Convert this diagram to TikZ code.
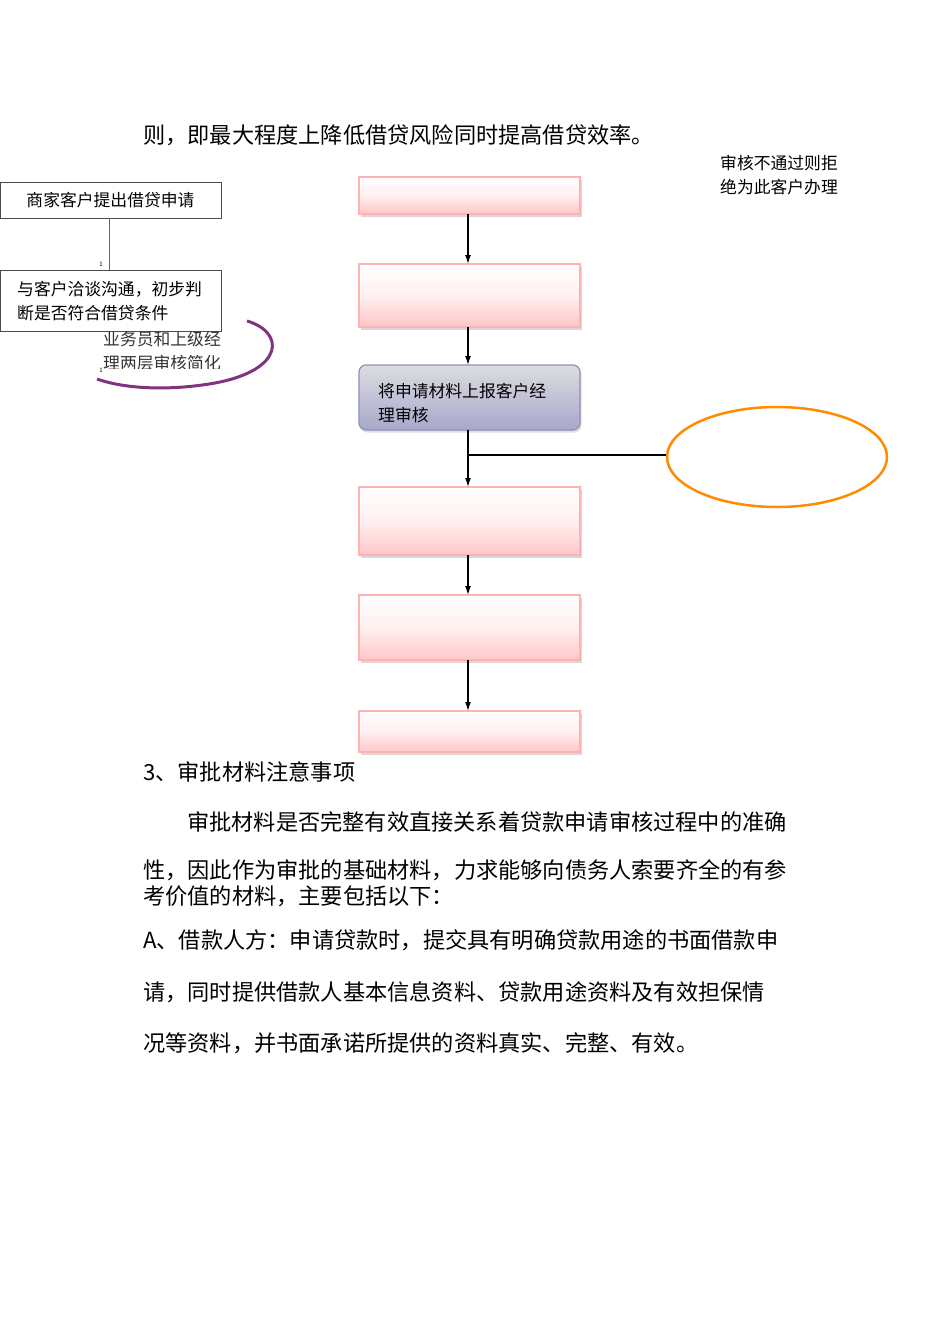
\documentclass[tikz,border=0pt]{standalone}
\usepackage{fontspec}
\setmainfont{Noto Sans CJK SC}
\usetikzlibrary{arrows.meta,shadows}
\begin{document}
\begin{tikzpicture}[x=1pt,y=-1pt,
  body/.style={anchor=west,font=\fontsize{22.2}{24}\selectfont,inner sep=0},
  small/.style={anchor=west,font=\fontsize{16.8}{18}\selectfont,inner sep=0},
  plain/.style={draw=black!70,line width=0.6pt,fill=white},
  pink/.style={draw=red!30,line width=1.2pt,top color=white,bottom color=red!22,middle color=red!6,drop shadow={shadow xshift=1.5pt,shadow yshift=-2.5pt,fill=black!30}},
  arr/.style={-{Latex[length=9pt,width=6pt]},line width=1.3pt}]
\useasboundingbox (0,0) rectangle (950,1344);
\node[body] at (143,135) {则，即最大程度上降低借贷风险同时提高借贷效率。};
\node[small] at (720,163) {审核不通过则拒};
\node[small] at (720,187) {绝为此客户办理};
% left boxes
\draw[plain] (0,182) rectangle (221,218) node[midway,font=\fontsize{16.8}{18}\selectfont] (b1) {商家客户提出借贷申请};
\coordinate (l1) at (109,218); \coordinate (l2) at (109,270);
\draw[black!60] (l1) -- (l2);
\node[font=\fontsize{6}{6}\selectfont] (n1) at (101,264) {1};
\draw[plain] (0,270) rectangle (221,331);
\node[small] (b2a) at (17,289) {与客户洽谈沟通，初步判};
\node[small] (b2b) at (17,313) {断是否符合借贷条件};
\begin{scope}
\clip (100,331) rectangle (229,368);
\node[small,text=black!80] (t1) at (103,339) {业务员和上级经};
\node[small,text=black!80] (t2) at (103,363) {理两层审核简化};
\end{scope}
\node[font=\fontsize{6}{6}\selectfont] (n2) at (101,370) {1};
\draw[violet!60!gray,line width=3pt] (247,321) .. controls (285,332) and (285,370) .. (215,383) .. controls (170,391) and (125,389) .. (97,379);
% flow
\draw[pink] (359,177) rectangle (580,214);
\draw[pink] (359,264) rectangle (580,327);
\draw[draw=blue!25!gray!70,line width=1.2pt,rounded corners=7pt,top color=blue!8!gray!25,bottom color=blue!25!gray!55,drop shadow={shadow xshift=1.5pt,shadow yshift=-2.5pt,fill=black!25}] (359,365) rectangle (580,430);
\node[small] (bl) at (378,391) {将申请材料上报客户经};
\node[small] (bl2) at (378,415) {理审核};
\draw[pink] (359,487) rectangle (580,555);
\draw[pink] (359,595) rectangle (580,660);
\draw[pink] (359,711) rectangle (580,752);
\coordinate (a1) at (468,214); \coordinate (a2) at (468,264);
\coordinate (a3) at (468,327); \coordinate (a4) at (468,365);
\coordinate (a5) at (468,430); \coordinate (a6) at (468,487);
\coordinate (a7) at (468,555); \coordinate (a8) at (468,595);
\coordinate (a9) at (468,660); \coordinate (a10) at (468,711);
\coordinate (br) at (468,455); \coordinate (el) at (667,455);
\draw[arr] (a1) -- (a2); \draw[arr] (a3) -- (a4); \draw[arr] (a5) -- (a6);
\draw[arr] (a7) -- (a8); \draw[arr] (a9) -- (a10);
\draw[line width=1.3pt] (br) -- (el);
\draw[orange!90!yellow,line width=2.5pt] (777,457) ellipse[x radius=110,y radius=50];
% text
\node[body] at (143,772) {3、审批材料注意事项};
\node[body] at (187,822) {审批材料是否完整有效直接关系着贷款申请审核过程中的准确};
\node[body] at (143,870) {性，因此作为审批的基础材料，力求能够向债务人索要齐全的有参};
\node[body] at (143,896) {考价值的材料，主要包括以下：};
\node[body] at (143,940) {A、借款人方：申请贷款时，提交具有明确贷款用途的书面借款申};
\node[body] at (143,992) {请，同时提供借款人基本信息资料、贷款用途资料及有效担保情};
\node[body] at (143,1043) {况等资料，并书面承诺所提供的资料真实、完整、有效。};
\end{tikzpicture}
\end{document}
